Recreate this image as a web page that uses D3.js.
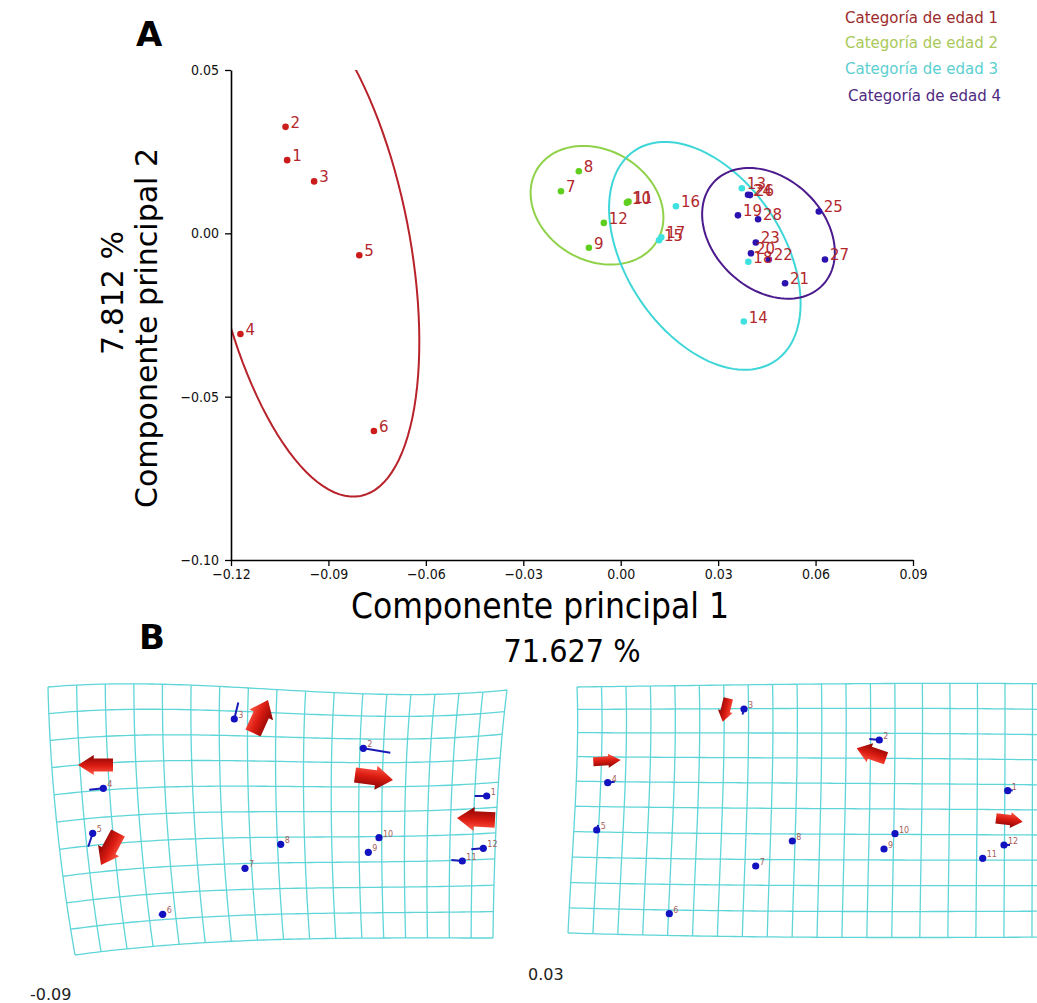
<!DOCTYPE html>
<html>
<head>
<meta charset="utf-8">
<script src="https://cdn.jsdelivr.net/npm/d3@7"></script>
<style>
  body { margin: 0; background: #fff; }
  svg { display: block; font-family: 'DejaVu Sans', sans-serif; }
</style>
</head>
<body>
<svg id="chart" width="1037" height="1003"></svg>
<script>
// ---- panel A data ----
const ageCategories = ['Categoría de edad 1', 'Categoría de edad 2', 'Categoría de edad 3', 'Categoría de edad 4']
const specimenLabels = ['1', '2', '3', '4', '5', '6', '7', '8', '9', '10', '11', '12', '13', '14',
  '15', '16', '17', '18', '19', '20', '21', '22', '23', '24', '25', '26', '27', '28']
const pc1 = [-0.1027, -0.1032, -0.0944, -0.1171, -0.0805, -0.0760,
  -0.0184, -0.0129, -0.0098, 0.0019, 0.0024, -0.0052,
  0.0373, 0.0379, 0.0118, 0.0170, 0.0125, 0.0393,
  0.0361, 0.0401, 0.0506, 0.0456, 0.0416, 0.0392, 0.0610, 0.0398, 0.0629, 0.0423]
const pc2 = [0.0224, 0.0326, 0.0159, -0.0308, -0.0067, -0.0605,
  0.0129, 0.0190, -0.0044, 0.0094, 0.0097, 0.0032,
  0.0138, -0.0270, -0.0021, 0.0083, -0.0012, -0.0087,
  0.0055, -0.0061, -0.0153, -0.0080, -0.0028, 0.0118, 0.0067, 0.0117, -0.0080, 0.0043]
const ageCategory = [0, 0, 0, 0, 0, 0, 1, 1, 1, 1, 1, 1, 2, 2, 2, 2, 2, 2, 3, 3, 3, 3, 3, 3, 3, 3, 3, 3]

// confidence ellipses, one per category (data units, angle in degrees)
const ellipseCx = [-0.0955, -0.0073, 0.0259, 0.0455]
const ellipseCy = [-0.0025, 0.0086, -0.0069, 0.0000]
const ellipseMajor = [0.0794, 0.0215, 0.0388, 0.0230]
const ellipseMinor = [0.0303, 0.0169, 0.0241, 0.0170]
const ellipseAngle = [-78.8, -30, -56, -43]

const xTicks = [-0.12, -0.09, -0.06, -0.03, 0.00, 0.03, 0.06, 0.09]
const yTicks = [-0.10, -0.05, 0.00, 0.05]

// ---- panel B data (landmarks, local grid units) ----
const landmarkIds = ['1', '2', '3', '4', '5', '6', '7', '8', '9', '10', '11', '12']
const negX = [438.7, 315.3, 186.3, 55.3, 44.7, 114.7, 197, 232.7, 320.3, 331, 414.3, 435.3]
const negY = [109, 61.3, 32, 101.3, 146.3, 227.3, 181.3, 157.3, 165.3, 150.7, 174, 161.3]
const negDx = [-12, 27, 4, -14, -4.5, -4, -2, -1, -1, 2, -11, -12]
const negDy = [0, 4.5, -16.5, 1.5, 13.5, 0.5, 2, 0.5, 0.5, 1.5, -1, 1]
const posX = [430.7, 302.3, 167, 30.7, 19.7, 92.3, 178.7, 215.3, 307, 318, 405.7, 427]
const posY = [103.7, 53, 22, 95.7, 143, 226.7, 179, 154, 162, 146.7, 171.3, 158]
const posDx = [5, -10, -1.5, 7, 1.5, -1, -1, -1, -1, -1, 3, 6]
const posDy = [-0.5, -1, 5.5, -1, -5, 0.5, 0.5, 0.5, 0.5, 0.5, 0, 0]

// big shape-change arrows: tail x/y, tip x/y, width
const negArrowX1 = [205, 65, 70, 307, 447]
const negArrowY1 = [46, 78, 146, 88, 133]
const negArrowX2 = [220, 30, 53, 345, 409]
const negArrowY2 = [13, 78, 178, 93, 131]
const negArrowW = [26, 20, 24, 24, 24]
const posArrowX1 = [151.3, 16.3, 309, 419]
const posArrowY1 = [11.3, 74.7, 71.3, 131.3]
const posArrowX2 = [145.7, 43.7, 279.7, 445.7]
const posArrowY2 = [34.7, 73, 61.3, 134.7]
const posArrowW = [15, 14, 20, 16]

const gridScores = ['-0.09', '0.03']

const pointColors = ['#cc1b1b', '#5fcf1f', '#3fe0e0', '#2b12b0']
const ellipseColors = ['#b8222a', '#8fd24a', '#3fd6d8', '#4b1a8c']
const legendColors = ['#9b2b2b', '#a9c95a', '#5ccfd0', '#4f2a80']

const svg = d3.select('#chart')

// ---------------- Panel A ----------------
const x = d3.scaleLinear().domain([-0.12, 0.09]).range([231, 913])
const y = d3.scaleLinear().domain([-0.10, 0.05]).range([560, 70])
const fmt = d3.format('.2f')

svg.append('text').attr('x', 136).attr('y', 46)
  .style('font-size', '34px').style('font-weight', 'bold').text('A')

svg.append('defs').append('clipPath').attr('id', 'plotClip')
  .append('rect').attr('x', 231).attr('y', 70).attr('width', 682).attr('height', 490)

const ellipsePts = (i) => d3.range(0, 361, 3).map((deg) => {
  const t = deg * Math.PI / 180
  const phi = ellipseAngle[i] * Math.PI / 180
  const ex = ellipseMajor[i] * Math.cos(t)
  const ey = ellipseMinor[i] * Math.sin(t)
  return [
    x(ellipseCx[i] + ex * Math.cos(phi) - ey * Math.sin(phi)),
    y(ellipseCy[i] + ex * Math.sin(phi) + ey * Math.cos(phi))
  ]
})

svg.append('g').attr('clip-path', 'url(#plotClip)')
  .selectAll('path')
  .data(ageCategories.map((d, i) => i))
  .join('path')
  .attr('d', (i) => d3.line()(ellipsePts(i)))
  .attr('fill', 'none')
  .attr('stroke', (i) => ellipseColors[i])
  .attr('stroke-width', 2)

// axes
const xAxis = svg.append('g')
  .attr('transform', 'translate(0,560)')
  .call(d3.axisBottom(x).tickValues(xTicks).tickFormat(fmt).tickSize(6).tickSizeOuter(0).tickPadding(3))
const yAxis = svg.append('g')
  .attr('transform', 'translate(231,0)')
  .call(d3.axisLeft(y).tickValues(yTicks).tickFormat(fmt).tickSize(6).tickSizeOuter(0).tickPadding(6))
for (const ax of [xAxis, yAxis]) {
  ax.select('.domain').attr('stroke-width', 1.6)
  ax.selectAll('.tick line').attr('stroke-width', 1.3)
  ax.selectAll('.tick text').style('font-size', '14px').style('font-family', "'DejaVu Sans Condensed', 'DejaVu Sans'").attr('fill', '#111')
}

// points
const idx = d3.range(pc1.length)
svg.append('g').selectAll('circle')
  .data(idx)
  .join('circle')
  .attr('cx', (i) => x(pc1[i]))
  .attr('cy', (i) => y(pc2[i]))
  .attr('r', 3.3)
  .attr('fill', (i) => pointColors[ageCategory[i]])

svg.append('g').selectAll('text')
  .data(idx)
  .join('text')
  .attr('x', (i) => x(pc1[i]) + 5)
  .attr('y', (i) => y(pc2[i]) + 1)
  .attr('fill', '#b3282c')
  .style('font-size', '15px')
  .text((i) => specimenLabels[i])

// legend
svg.append('g').selectAll('text')
  .data(ageCategories)
  .join('text')
  .attr('x', (d, i) => (i === 3 ? 848 : 845))
  .attr('y', (d, i) => [23, 48, 74, 101][i])
  .attr('fill', (d, i) => legendColors[i])
  .style('font-size', '15px')
  .text((d) => d)

// axis titles
svg.append('text')
  .attr('transform', 'translate(540,618)')
  .attr('text-anchor', 'middle')
  .style('font-size', '35px')
  .style('font-family', "'DejaVu Sans Condensed', 'DejaVu Sans'")
  .text('Componente principal 1')
svg.append('text')
  .attr('transform', 'translate(572,662)')
  .attr('text-anchor', 'middle')
  .style('font-size', '32px')
  .style('font-family', "'DejaVu Sans Condensed', 'DejaVu Sans'")
  .text('71.627 %')
svg.append('text')
  .attr('transform', 'translate(157,328) rotate(-90)')
  .attr('text-anchor', 'middle')
  .style('font-size', '30px')
  .text('Componente principal 2')
svg.append('text')
  .attr('transform', 'translate(123,293) rotate(-90)')
  .attr('text-anchor', 'middle')
  .style('font-size', '30px')
  .text('7.812 %')

// ---------------- Panel B ----------------
svg.append('text').attr('x', 139).attr('y', 649)
  .style('font-size', '34px').style('font-weight', 'bold').text('B')

// warped deformation grids: Coons patch from four cubic boundary curves
const grids = [
  {
    origin: [48, 687], cols: 17, rows: 10, colDomain: [0, 11, 17], colRange: [0, 0.686, 1],
    top: [[48, 687], [201, 674], [354, 706], [507, 690]],
    bottom: [[75, 955], [214, 936], [354, 938], [493, 938]],
    left: [[48, 687], [50, 775], [60, 870], [75, 955]],
    right: [[507, 690], [498, 760], [494, 850], [493, 938]],
    lx: negX, ly: negY, ldx: negDx, ldy: negDy,
    ax1: negArrowX1, ay1: negArrowY1, ax2: negArrowX2, ay2: negArrowY2, aw: negArrowW,
    score: gridScores[0], scorePos: [30, 1000]
  },
  {
    origin: [577, 687], cols: 19, rows: 10, colDomain: [0, 13, 19], colRange: [0, 0.658, 1],
    top: [[577, 687], [738, 685], [899, 682], [1060, 684]],
    bottom: [[568, 933], [732, 938], [896, 938], [1060, 937]],
    left: [[577, 687], [580, 760], [572, 850], [568, 933]],
    right: [[1060, 684], [1060, 770], [1060, 850], [1060, 937]],
    lx: posX, ly: posY, ldx: posDx, ldy: posDy,
    ax1: posArrowX1, ay1: posArrowY1, ax2: posArrowX2, ay2: posArrowY2, aw: posArrowW,
    score: gridScores[1], scorePos: [528, 980]
  }
]

const bez = (p, t) => {
  const mt = 1 - t
  return [0, 1].map((k) => mt * mt * mt * p[0][k] + 3 * mt * mt * t * p[1][k] + 3 * mt * t * t * p[2][k] + t * t * t * p[3][k])
}
const coons = (g, u, v) => {
  const T = bez(g.top, u), B = bez(g.bottom, u), L = bez(g.left, v), R = bez(g.right, v)
  const P00 = g.top[0], P10 = g.top[3], P01 = g.bottom[0], P11 = g.bottom[3]
  return [0, 1].map((k) => (1 - v) * T[k] + v * B[k] + (1 - u) * L[k] + u * R[k] -
    ((1 - u) * (1 - v) * P00[k] + u * (1 - v) * P10[k] + (1 - u) * v * P01[k] + u * v * P11[k]))
}

const defs = svg.select('defs')
const grad = defs.append('linearGradient').attr('id', 'arrowGrad')
  .attr('x1', 0).attr('y1', 0).attr('x2', 0).attr('y2', 1)
grad.append('stop').attr('offset', '0%').attr('stop-color', '#ff5a48')
grad.append('stop').attr('offset', '45%').attr('stop-color', '#dc1c12')
grad.append('stop').attr('offset', '100%').attr('stop-color', '#870404')

const line = d3.line()

grids.forEach((g) => {
  const uScale = d3.scaleLinear().domain(g.colDomain).range(g.colRange)
  const lx = d3.scaleLinear().domain([0, 100]).range([g.origin[0], g.origin[0] + 100])
  const ly = d3.scaleLinear().domain([0, 100]).range([g.origin[1], g.origin[1] + 100])
  const gg = svg.append('g')

  const vSteps = d3.range(0, 1.0001, 1 / 40)
  const uSteps = d3.range(0, 1.0001, 1 / 80)
  const colLines = d3.range(g.cols + 1).map((c) => vSteps.map((v) => coons(g, uScale(c), v)))
  const rowLines = d3.range(g.rows + 1).map((r) => uSteps.map((u) => coons(g, u, r / g.rows)))

  gg.selectAll('path.grid')
    .data(colLines.concat(rowLines))
    .join('path')
    .attr('class', 'grid')
    .attr('d', line)
    .attr('fill', 'none')
    .attr('stroke', '#5fd5d8')
    .attr('stroke-width', 1.3)

  const li = d3.range(g.lx.length)
  gg.selectAll('line.vec')
    .data(li)
    .join('line')
    .attr('class', 'vec')
    .attr('x1', (i) => lx(g.lx[i]))
    .attr('y1', (i) => ly(g.ly[i]))
    .attr('x2', (i) => lx(g.lx[i] + g.ldx[i]))
    .attr('y2', (i) => ly(g.ly[i] + g.ldy[i]))
    .attr('stroke', '#1a1ab4')
    .attr('stroke-width', 2)
  gg.selectAll('circle')
    .data(li)
    .join('circle')
    .attr('cx', (i) => lx(g.lx[i]))
    .attr('cy', (i) => ly(g.ly[i]))
    .attr('r', 3.6)
    .attr('fill', '#1212c0')
  gg.selectAll('text.lm')
    .data(li)
    .join('text')
    .attr('class', 'lm')
    .attr('x', (i) => lx(g.lx[i]) + 4)
    .attr('y', (i) => ly(g.ly[i]) - 1)
    .attr('fill', '#a8605a')
    .style('font-size', '8px')
    .text((i) => landmarkIds[i])

  const ai = d3.range(g.ax1.length)
  gg.selectAll('path.arrow')
    .data(ai)
    .join('path')
    .attr('class', 'arrow')
    .attr('transform', (i) => {
      const ang = Math.atan2(ly(g.ay2[i]) - ly(g.ay1[i]), lx(g.ax2[i]) - lx(g.ax1[i])) * 180 / Math.PI
      return `translate(${lx(g.ax1[i])},${ly(g.ay1[i])}) rotate(${ang})`
    })
    .attr('d', (i) => {
      const len = Math.hypot(lx(g.ax2[i]) - lx(g.ax1[i]), ly(g.ay2[i]) - ly(g.ay1[i]))
      const hw = g.aw[i] / 2, sw = g.aw[i] * 0.32, hl = len * 0.45
      return `M0,${-sw}L${len - hl},${-sw}L${len - hl},${-hw}L${len},0L${len - hl},${hw}L${len - hl},${sw}L0,${sw}Z`
    })
    .attr('fill', 'url(#arrowGrad)')

  svg.append('text')
    .attr('x', g.scorePos[0]).attr('y', g.scorePos[1])
    .style('font-size', '16px')
    .attr('fill', '#222')
    .text(g.score)
})
</script>
</body>
</html>
